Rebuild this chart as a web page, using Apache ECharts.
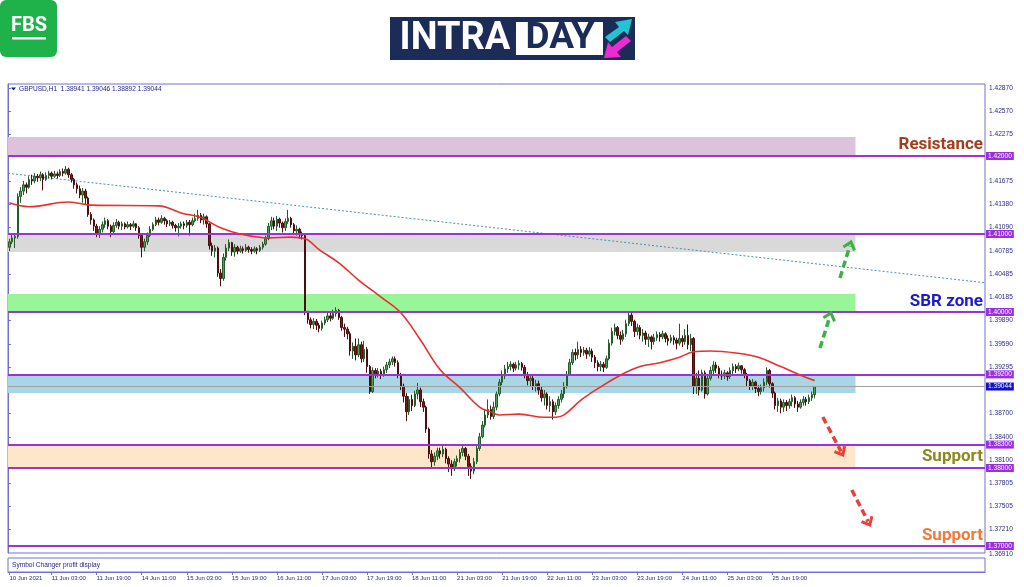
<!DOCTYPE html>
<html><head><meta charset="utf-8">
<script src="https://cdn.jsdelivr.net/npm/echarts@6/dist/echarts.min.js"></script>
<style>html,body{margin:0;padding:0;background:#fff}#c{width:1024px;height:587px}</style>
</head><body><div id="c"></div><script>
// ---------- DATA ----------
const symbolTitle = 'GBPUSD,H1  1.38941 1.39046 1.38892 1.39044';
const timeLabels = ['10 Jun 2021','11 Jun 03:00','11 Jun 19:00','14 Jun 11:00','15 Jun 03:00','15 Jun 19:00','16 Jun 11:00','17 Jun 03:00','17 Jun 19:00','18 Jun 11:00','21 Jun 03:00','21 Jun 19:00','22 Jun 11:00','23 Jun 03:00','23 Jun 19:00','24 Jun 11:00','25 Jun 03:00','25 Jun 19:00'];
const firstTickBar = 15, barsPerTick = 16, totalSlots = 347;
const firstOpen = 1.4083, lastOpen = 1.38941;
const closes = [
1.4090,1.4095,1.4097,1.4148,1.4155,1.4163,1.4160,1.4170,1.4168,1.4174,
1.4172,1.4176,1.4170,1.4175,1.4178,1.4174,1.4177,1.4175,1.4180,1.4178,
1.4183,1.4176,1.4170,1.4163,1.4158,1.4150,1.4155,1.4146,1.4125,1.4118,
1.4110,1.4100,1.4106,1.4112,1.4117,1.4110,1.4103,1.4111,1.4115,1.4110,
1.4113,1.4109,1.4112,1.4110,1.4113,1.4108,1.4098,1.4083,1.4090,1.4098,
1.4106,1.4112,1.4118,1.4115,1.4120,1.4117,1.4113,1.4115,1.4111,1.4108,
1.4110,1.4113,1.4111,1.4115,1.4112,1.4117,1.4120,1.4124,1.4118,1.4122,
1.4113,1.4085,1.4078,1.4082,1.4050,1.4043,1.4070,1.4082,1.4089,1.4077,
1.4083,1.4078,1.4081,1.4079,1.4083,1.4080,1.4078,1.4081,1.4079,1.4083,
1.4087,1.4094,1.4110,1.4117,1.4110,1.4119,1.4114,1.4108,1.4116,1.4120,
1.4112,1.4104,1.4106,1.4099,1.4098,1.4001,1.3990,1.3984,1.3988,1.3983,
1.3979,1.3986,1.3990,1.3995,1.3992,1.3998,1.4002,1.3993,1.3980,1.3978,
1.3972,1.3950,1.3956,1.3945,1.3958,1.3940,1.3952,1.3930,1.3898,1.3925,
1.3920,1.3924,1.3919,1.3926,1.3932,1.3936,1.3940,1.3935,1.3920,1.3905,
1.3892,1.3872,1.3888,1.3880,1.3895,1.3900,1.3885,1.3878,1.3850,1.3818,
1.3808,1.3815,1.3822,1.3818,1.3824,1.3812,1.3805,1.3800,1.3808,1.3812,
1.3820,1.3825,1.3815,1.3802,1.3796,1.3808,1.3825,1.3840,1.3855,1.3868,
1.3875,1.3866,1.3878,1.3895,1.3910,1.3918,1.3927,1.3930,1.3933,1.3928,
1.3932,1.3934,1.3929,1.3920,1.3912,1.3915,1.3905,1.3908,1.3900,1.3890,
1.3895,1.3880,1.3885,1.3872,1.3880,1.3888,1.3895,1.3905,1.3920,1.3935,
1.3948,1.3945,1.3952,1.3948,1.3951,1.3946,1.3950,1.3942,1.3935,1.3930,
1.3933,1.3929,1.3940,1.3960,1.3975,1.3980,1.3970,1.3965,1.3972,1.3985,
1.3996,1.3988,1.3975,1.3980,1.3970,1.3973,1.3965,1.3968,1.3962,1.3967,
1.3971,1.3968,1.3972,1.3966,1.3963,1.3967,1.3964,1.3960,1.3966,1.3962,
1.3970,1.3958,1.3966,1.3905,1.3915,1.3900,1.3922,1.3895,1.3915,1.3925,
1.3932,1.3928,1.3920,1.3918,1.3922,1.3917,1.3925,1.3930,1.3927,1.3931,
1.3926,1.3920,1.3912,1.3905,1.3910,1.3902,1.3898,1.3903,1.3910,1.3925,
1.3908,1.3896,1.3880,1.3886,1.3878,1.3884,1.3880,1.3885,1.3890,1.3882,
1.3878,1.3884,1.3888,1.3885,1.3890,1.3894,1.39044];
const highs = [
1.4094,1.4099,1.4101,1.4152,1.4160,1.4168,1.4166,1.4174,1.4176,1.4178,
1.4177,1.4180,1.4178,1.4179,1.4181,1.4180,1.4181,1.4180,1.4183,1.4184,
1.4187,1.4185,1.4178,1.4172,1.4166,1.4162,1.4159,1.4158,1.4148,1.4128,
1.4120,1.4113,1.4110,1.4116,1.4121,1.4119,1.4112,1.4115,1.4119,1.4117,
1.4116,1.4115,1.4116,1.4114,1.4117,1.4114,1.4110,1.4100,1.4094,1.4102,
1.4110,1.4115,1.4122,1.4121,1.4124,1.4122,1.4119,1.4118,1.4117,1.4113,
1.4114,1.4116,1.4116,1.4118,1.4118,1.4121,1.4126,1.4131,1.4127,1.4126,
1.4124,1.4114,1.4089,1.4086,1.4084,1.4055,1.4075,1.4087,1.4093,1.4090,
1.4087,1.4085,1.4085,1.4084,1.4087,1.4085,1.4083,1.4084,1.4083,1.4086,
1.4090,1.4098,1.4114,1.4122,1.4121,1.4123,1.4121,1.4116,1.4120,1.4131,
1.4122,1.4114,1.4111,1.4108,1.4103,1.4100,1.4000,1.3993,1.3992,1.3991,
1.3986,1.3989,1.3994,1.3999,1.3999,1.4003,1.4006,1.4004,1.3995,1.3985,
1.3981,1.3975,1.3961,1.3966,1.3966,1.3962,1.3963,1.3955,1.3932,1.3929,
1.3928,1.3928,1.3927,1.3930,1.3936,1.3940,1.3943,1.3943,1.3938,1.3922,
1.3908,1.3896,1.3892,1.3894,1.3899,1.3909,1.3903,1.3889,1.3880,1.3852,
1.3823,1.3820,1.3826,1.3826,1.3828,1.3826,1.3815,1.3810,1.3812,1.3816,
1.3824,1.3830,1.3827,1.3818,1.3806,1.3813,1.3829,1.3845,1.3860,1.3875,
1.3888,1.3880,1.3885,1.3898,1.3914,1.3925,1.3932,1.3936,1.3937,1.3935,
1.3936,1.3938,1.3936,1.3932,1.3923,1.3919,1.3918,1.3913,1.3912,1.3905,
1.3900,1.3897,1.3892,1.3888,1.3884,1.3892,1.3900,1.3910,1.3924,1.3940,
1.3952,1.3953,1.3962,1.3956,1.3955,1.3954,1.3955,1.3953,1.3945,1.3938,
1.3937,1.3936,1.3944,1.3965,1.3980,1.3985,1.3982,1.3975,1.3977,1.3990,
1.3999,1.3999,1.3990,1.3985,1.3983,1.3978,1.3976,1.3972,1.3970,1.3972,
1.3975,1.3974,1.3976,1.3974,1.3970,1.3971,1.3970,1.3967,1.3985,1.3970,
1.3978,1.3984,1.3972,1.3968,1.3922,1.3925,1.3926,1.3925,1.3920,1.3930,
1.3937,1.3936,1.3931,1.3925,1.3926,1.3924,1.3929,1.3934,1.3933,1.3935,
1.3932,1.3928,1.3922,1.3914,1.3914,1.3912,1.3906,1.3907,1.3915,1.3929,
1.3927,1.3910,1.3898,1.3890,1.3889,1.3888,1.3887,1.3889,1.3894,1.3892,
1.3886,1.3888,1.3892,1.3891,1.3894,1.3898,1.39046];
const lows = [
1.4078,1.4087,1.4082,1.4094,1.4140,1.4150,1.4152,1.4158,1.4163,1.4165,
1.4167,1.4168,1.4156,1.4168,1.4171,1.4170,1.4172,1.4171,1.4173,1.4174,
1.4176,1.4172,1.4166,1.4158,1.4152,1.4146,1.4140,1.4138,1.4122,1.4112,
1.4104,1.4096,1.4095,1.4102,1.4108,1.4106,1.4096,1.4100,1.4108,1.4106,
1.4105,1.4106,1.4107,1.4105,1.4108,1.4104,1.4094,1.4070,1.4078,1.4086,
1.4096,1.4104,1.4110,1.4111,1.4113,1.4112,1.4109,1.4110,1.4107,1.4103,
1.4097,1.4107,1.4106,1.4108,1.4098,1.4110,1.4115,1.4117,1.4114,1.4112,
1.4108,1.4080,1.4072,1.4070,1.4045,1.4033,1.4040,1.4066,1.4078,1.4072,
1.4071,1.4074,1.4076,1.4075,1.4077,1.4076,1.4074,1.4076,1.4074,1.4077,
1.4080,1.4085,1.4092,1.4105,1.4106,1.4104,1.4108,1.4102,1.4104,1.4113,
1.4108,1.4100,1.4098,1.4094,1.4093,1.3996,1.3985,1.3979,1.3978,1.3977,
1.3974,1.3976,1.3983,1.3987,1.3988,1.3990,1.3994,1.3990,1.3976,1.3968,
1.3965,1.3944,1.3940,1.3938,1.3942,1.3935,1.3936,1.3922,1.3895,1.3896,
1.3915,1.3916,1.3914,1.3917,1.3922,1.3928,1.3932,1.3930,1.3915,1.3900,
1.3884,1.3860,1.3868,1.3873,1.3878,1.3888,1.3878,1.3872,1.3845,1.3812,
1.3800,1.3803,1.3810,1.3812,1.3814,1.3806,1.3795,1.3790,1.3796,1.3802,
1.3807,1.3815,1.3810,1.3790,1.3786,1.3792,1.3805,1.3822,1.3838,1.3852,
1.3864,1.3862,1.3863,1.3874,1.3892,1.3906,1.3914,1.3922,1.3925,1.3923,
1.3925,1.3926,1.3925,1.3915,1.3906,1.3905,1.3900,1.3898,1.3894,1.3885,
1.3880,1.3875,1.3872,1.3862,1.3868,1.3876,1.3884,1.3890,1.3902,1.3918,
1.3932,1.3938,1.3940,1.3942,1.3944,1.3940,1.3943,1.3936,1.3928,1.3924,
1.3924,1.3923,1.3927,1.3938,1.3957,1.3970,1.3965,1.3958,1.3962,1.3968,
1.3982,1.3982,1.3968,1.3970,1.3965,1.3962,1.3958,1.3955,1.3952,1.3958,
1.3963,1.3962,1.3965,1.3961,1.3957,1.3960,1.3958,1.3952,1.3957,1.3955,
1.3958,1.3952,1.3950,1.3895,1.3895,1.3893,1.3898,1.3889,1.3893,1.3912,
1.3920,1.3922,1.3915,1.3913,1.3914,1.3912,1.3914,1.3920,1.3922,1.3924,
1.3921,1.3915,1.3905,1.3900,1.3900,1.3896,1.3892,1.3894,1.3898,1.3906,
1.3903,1.3890,1.3875,1.3872,1.3870,1.3872,1.3873,1.3876,1.3879,1.3877,
1.3872,1.3876,1.3880,1.3880,1.3882,1.3886,1.38892];
// moving average: [bar index, price]
const maPoints = [[0,1.4140],[7,1.4135],[21,1.4141],[29,1.4137],[53,1.4136],[61,1.4127],[68,1.4121],[75,1.4108],[82,1.4100],[92,1.4095],[100,1.4096],[105,1.4094],[110,1.4080],[117,1.4063],[124,1.4041],[132,1.4019],[139,1.3999],[146,1.3964],[153,1.3926],[160,1.3903],[167,1.3878],[171,1.3872],[174,1.3868],[181,1.3869],[190,1.3865],[194,1.3865],[197,1.3868],[203,1.3887],[210,1.3904],[217,1.3919],[224,1.3930],[231,1.3935],[238,1.3942],[243,1.3949],[249,1.3950],[259,1.3947],[266,1.3942],[274,1.3930],[281,1.3919],[286,1.3912]];
const trendLine = [[0,1.41778],[347,1.40375]];
const levels = [1.42000,1.41000,1.40000,1.39200,1.38300,1.38000,1.37000];
const currentPrice = 1.39044;
const zoneEnd = 301;
const zones = [
  {top:1.42244, bottom:1.42000, color:'#dcc2dd'},
  {top:1.41000, bottom:1.40770, color:'#d9d9d9'},
  {top:1.40230, bottom:1.40000, color:'#98f598'},
  {top:1.39200, bottom:1.38960, color:'#a9d6e4'},
  {top:1.38300, bottom:1.38000, color:'#fde6c9'}
];
const yTicks = [1.42870,1.42570,1.42275,1.41675,1.41380,1.41090,1.40785,1.40485,1.40185,1.39890,1.39590,1.39295,1.38700,1.38400,1.38100,1.37805,1.37505,1.37210];
const bottomTickLabel = '1.36910';
const yMin = 1.36910, yMax = 1.42923;
const notes = [
  {text:'Resistance', price:1.42141, color:'#a53d1c'},
  {text:'SBR zone', price:1.40128, color:'#1a1acb'},
  {text:'Support', price:1.38141, color:'#8c8a1c'},
  {text:'Support', price:1.37128, color:'#f07a38'}
];
const arrows = [
  {x0:288.4,p0:1.39538,x1:292.3,p1:1.39987,color:'#3cb043'},
  {x0:295.5,p0:1.40436,x1:299.4,p1:1.40897,color:'#3cb043'},
  {x0:289.4,p0:1.38654,x1:296.5,p1:1.38167,color:'#e8403a'},
  {x0:299.7,p0:1.37718,x1:306.1,p1:1.37269,color:'#e8403a'}
];

// ---------- BUILD ----------
const cats = Array.from({length: totalSlots}, (_, i) => String(i));
function labelAt(i){
  if (i === 0) return timeLabels[0];
  if (i >= firstTickBar && (i - firstTickBar) % barsPerTick === 0) {
    const k = (i - firstTickBar) / barsPerTick + 1;
    return k < timeLabels.length ? timeLabels[k] : null;
  }
  return null;
}
const candles = closes.map((c, i) => {
  const o = i === 0 ? firstOpen : (i === closes.length - 1 ? lastOpen : closes[i - 1]);
  return [o, c, Math.min(lows[i], o, c), Math.max(highs[i], o, c)];
});
const axisColor = '#7070d4', labelColor = '#2a2a86', FONT = 'Liberation Sans';
const levelLabel = (bg, v) => ({show:true, position:'end', distance:1, formatter:()=>v.toFixed(5),
  backgroundColor:bg, color:'#fff', fontSize:6.6, fontFamily:FONT, padding:[1,2,0,2]});

const chart = echarts.init(document.getElementById('c'), null, {renderer:'canvas'});
const option = {
  animation:false,
  backgroundColor:'#fff',
  grid:[
    {left:8, right:39, top:84, height:469, show:true, borderColor:axisColor, borderWidth:1},
    {left:8, right:39, top:558, height:14, show:true, borderColor:axisColor, borderWidth:1}
  ],
  xAxis:[
    {type:'category', gridIndex:0, data:cats, boundaryGap:true, axisLine:{show:false}, axisTick:{show:false}, axisLabel:{show:false}, splitLine:{show:false}},
    {type:'value', gridIndex:0, min:0, max:totalSlots, show:false},
    {type:'category', gridIndex:1, data:cats, boundaryGap:true,
      axisLine:{show:true, lineStyle:{color:axisColor}},
      axisTick:{show:true, interval:(i)=>labelAt(i)!==null, alignWithLabel:true, length:3, lineStyle:{color:axisColor}},
      axisLabel:{interval:(i)=>labelAt(i)!==null, formatter:(v,i)=>labelAt(i)||'', align:'left', fontSize:6, fontFamily:FONT, color:labelColor, margin:3}}
  ],
  yAxis:[
    {type:'value', gridIndex:0, position:'right', min:yMin, max:yMax,
      axisLine:{show:true, lineStyle:{color:axisColor}},
      axisTick:{show:true, customValues:yTicks, length:3, lineStyle:{color:axisColor}},
      axisLabel:{customValues:yTicks, formatter:(v)=>v.toFixed(5), fontSize:6.6, fontFamily:FONT, color:labelColor, margin:4},
      splitLine:{show:false}},
    {type:'value', gridIndex:1, show:false, min:0, max:1}
  ],
  series:[
    {type:'line', xAxisIndex:1, yAxisIndex:0, data:trendLine, symbol:'none', silent:true, z:3,
      lineStyle:{color:'#4b8fb3', width:1, type:[2,2]},
      markArea:{silent:true, data: zones.map(zn => [
        {coord:[0, zn.top], itemStyle:{color:zn.color, opacity:1}},
        {coord:[zoneEnd, zn.bottom]}])}},
    {type:'candlestick', xAxisIndex:0, yAxisIndex:0, data:candles, barWidth:2, z:4,
      itemStyle:{color:'#4aa552', color0:'#7a1c1c', borderColor:'#245c2a', borderColor0:'#4d0d0d', borderWidth:1},
      markLine:{silent:true, precision:5, symbol:['none','none'], z:5,
        data: levels.map(v => ({yAxis:v, lineStyle:{color:'#9a34d2', width:2, type:'solid'}, label:levelLabel('#9a30dc', v)}))
          .concat([{yAxis:currentPrice, lineStyle:{color:'#a0a0a0', width:1, type:'solid'}, label:levelLabel('#1212c4', currentPrice)}])}},
    {type:'line', xAxisIndex:0, yAxisIndex:0, data:maPoints, smooth:0.4, symbol:'none', silent:true, z:6,
      lineStyle:{color:'#e8302c', width:1.6}},
    {type:'line', xAxisIndex:2, yAxisIndex:1, data:[], symbol:'none'}
  ]
};
chart.setOption(option);

// ---------- DECORATIONS ----------
function px(x, p){ return chart.convertToPixel({xAxisIndex:1, yAxisIndex:0}, [x, p]); }
const g = [];
// FBS logo
g.push({type:'rect', shape:{x:0,y:0,width:57,height:57,r:6}, style:{fill:'#1fb24b'}});
g.push({type:'text', x:29, y:26, style:{text:'FBS', fill:'#fff', font:'bold 20px Roboto', align:'center', verticalAlign:'middle'}});
g.push({type:'rect', shape:{x:12,y:37,width:34,height:2.5}, style:{fill:'#fff'}});
// INTRADAY logo
g.push({type:'rect', shape:{x:390,y:17,width:245,height:43}, style:{fill:'#1c2c58'}});
g.push({type:'text', x:455, y:39, style:{text:'INTRA', fill:'#fff', font:'bold 38px Roboto', align:'center', verticalAlign:'middle'}});
g.push({type:'rect', shape:{x:516,y:22,width:87,height:33}, style:{fill:'#fff'}});
g.push({type:'text', x:560, y:39, style:{text:'DAY', fill:'#1c2c58', font:'bold 37px Roboto', align:'center', verticalAlign:'middle'}});
g.push({type:'polygon', shape:{points:[[605,37],[619,27],[615,22],[632,19],[628,35],[624,31],[610,42]]}, style:{fill:'#22c3d3'}});
g.push({type:'polygon', shape:{points:[[631,41],[617,52],[621,57],[604,58],[608,42],[612,47],[626,36]]}, style:{fill:'#ec2bd0'}});
// header
g.push({type:'polygon', shape:{points:[[11,87.5],[16,87.5],[13.5,90.5]]}, style:{fill:'#1a1a70'}});
g.push({type:'text', x:19, y:89, style:{text:symbolTitle, fill:'#24248a', font:'6.6px "Liberation Sans"', verticalAlign:'middle'}});
// sub-window caption
g.push({type:'text', x:12, y:565, style:{text:'Symbol Changer profit display', fill:'#24248a', font:'6.6px "Liberation Sans"', verticalAlign:'middle'}});
// bottom tick label of price scale
g.push({type:'text', x:989, y:554, style:{text:bottomTickLabel, fill:labelColor, font:'6.6px "Liberation Sans"', verticalAlign:'middle'}});
// annotations
const rightX = chart.convertToPixel({xAxisIndex:1}, totalSlots) - 2;
notes.forEach(n => {
  const y = chart.convertToPixel({yAxisIndex:0}, n.price);
  g.push({type:'text', x:rightX, y:y, z:10, style:{text:n.text, fill:n.color, font:'bold 17px Roboto', align:'right', verticalAlign:'middle'}});
});
// dashed arrows
arrows.forEach(a => {
  const s = px(a.x0, a.p0), e = px(a.x1, a.p1);
  const ang = Math.atan2(e[1]-s[1], e[0]-s[0]);
  const L = 9, w = 0.7;
  const h1 = [e[0]-L*Math.cos(ang-w), e[1]-L*Math.sin(ang-w)];
  const h2 = [e[0]-L*Math.cos(ang+w), e[1]-L*Math.sin(ang+w)];
  g.push({type:'line', z:10, shape:{x1:s[0], y1:s[1], x2:e[0]-4*Math.cos(ang), y2:e[1]-4*Math.sin(ang)}, style:{stroke:a.color, lineWidth:3.5, lineDash:[7,4]}});
  g.push({type:'polyline', z:10, shape:{points:[h1, e, h2]}, style:{stroke:a.color, lineWidth:3, fill:null}});
});
chart.setOption({graphic: g});
</script></body></html>
